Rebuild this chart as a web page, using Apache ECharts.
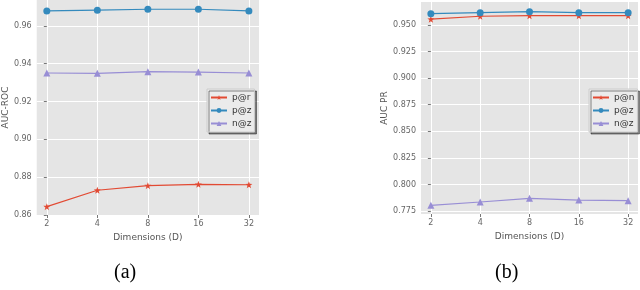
<!DOCTYPE html>
<html>
<head>
<meta charset="utf-8">
<script src="https://cdn.jsdelivr.net/npm/echarts@6/dist/echarts.min.js"></script>
<style>
html,body{margin:0;padding:0;background:#fff;}
#c{width:640px;height:290px;}
</style>
</head>
<body>
<div id="c"></div>
<script>
// ---- data ----
const dims = ['2', '4', '8', '16', '32'];
// (a) AUC-ROC
const rocNames = ['p@r', 'p@z', 'n@z'];
const rocPR = [0.8644, 0.8731, 0.8755, 0.8762, 0.8760];
const rocPZ = [0.9679, 0.9683, 0.9688, 0.9688, 0.9679];
const rocNZ = [0.9351, 0.9349, 0.9358, 0.9356, 0.9351];
const rocTicks = [0.86, 0.88, 0.90, 0.92, 0.94, 0.96];
// (b) AUC PR
const prNames = ['p@n', 'p@z', 'n@z'];
const prPN = [0.9554, 0.9582, 0.9587, 0.9587, 0.9587];
const prPZ = [0.9606, 0.9616, 0.9625, 0.9616, 0.9616];
const prNZ = [0.7804, 0.7835, 0.7869, 0.7853, 0.7847];
const prTicks = [0.775, 0.800, 0.825, 0.850, 0.875, 0.900, 0.925, 0.950];

const RED = '#E24A33', BLUE = '#348ABD', PURPLE = '#988ED5';
const FONT = 'DejaVu Sans';
const idx = dims.map((d, i) => i);
const pts = arr => arr.map((v, i) => [i, v]);

function xAxis(gi) {
  return {
    type: 'value', gridIndex: gi, min: -0.2, max: 4.2,
    name: 'Dimensions (D)', nameLocation: 'middle', nameGap: 16,
    nameTextStyle: {color: '#555', fontSize: 9, fontFamily: FONT},
    axisLine: {show: false},
    axisTick: {show: true, length: 3, lineStyle: {color: '#777'}, customValues: idx},
    axisLabel: {customValues: idx, formatter: v => dims[Math.round(v)], color: '#666', fontSize: 8, fontFamily: FONT, margin: 5},
    splitLine: {show: true, lineStyle: {color: '#fff', width: 1}}
  };
}
function yAxis(gi, min, max, ticks, name, gap, dec) {
  return {
    type: 'value', gridIndex: gi, min: min, max: max,
    name: name, nameLocation: 'middle', nameGap: gap,
    nameTextStyle: {color: '#555', fontSize: 9, fontFamily: FONT},
    axisLine: {show: false},
    axisTick: {show: true, length: 3, lineStyle: {color: '#777'}, customValues: ticks},
    axisLabel: {customValues: ticks, formatter: v => v.toFixed(dec), color: '#666', fontSize: 8, fontFamily: FONT, margin: 5},
    splitLine: {show: true, lineStyle: {color: '#fff', width: 1}}
  };
}
function line(name, data, color, symbol, size, gi) {
  return {
    type: 'line', name: name, data: pts(data), xAxisIndex: gi, yAxisIndex: gi,
    symbol: symbol, symbolSize: size, showSymbol: true,
    lineStyle: {color: color, width: 1.2}, itemStyle: {color: color},
    emphasis: {disabled: true}, animation: false, z: 3
  };
}
function legend(names, left, top) {
  return {
    data: names, left: left, top: top, orient: 'vertical',
    itemWidth: 16, itemHeight: 6, itemGap: 4,
    padding: [4, 3, 4, 3],
    backgroundColor: '#EBEBEB', borderColor: '#ccc', borderWidth: 1, borderRadius: 0,
    shadowColor: 'rgba(0,0,0,0.45)', shadowOffsetX: 2, shadowOffsetY: 2, shadowBlur: 0,
    textStyle: {color: '#333', fontSize: 9, fontFamily: FONT},
    selectedMode: false
  };
}

const STAR = 'path://M0,-10L2.35,-3.24L9.51,-3.09L3.8,1.24L5.88,8.09L0,4L-5.88,8.09L-3.8,1.24L-9.51,-3.09L-2.35,-3.24Z';
const chart = echarts.init(document.getElementById('c'), null, {renderer: 'canvas'});
chart.setOption({
  animation: false,
  grid: [
    {left: 36, top: 0, width: 223, height: 215, show: true, backgroundColor: '#E5E5E5', borderWidth: 0},
    {left: 421, top: 2, width: 217, height: 212, show: true, backgroundColor: '#E5E5E5', borderWidth: 0}
  ],
  xAxis: [xAxis(0), xAxis(1)],
  yAxis: [
    yAxis(0, 0.86, 0.9737, rocTicks, 'AUC-ROC', 26, 2),
    yAxis(1, 0.7722, 0.9716, prTicks, 'AUC PR', 30, 3)
  ],
  legend: [legend(rocNames, 207, 89), legend(prNames, 589, 89)],
  series: [
    line('p@r', rocPR, RED, STAR, 7, 0),
    line('p@z', rocPZ, BLUE, 'circle', 7, 0),
    line('n@z', rocNZ, PURPLE, 'triangle', 7, 0),
    line('p@n', prPN, RED, STAR, 7, 1),
    line('p@z', prPZ, BLUE, 'circle', 7, 1),
    line('n@z', prNZ, PURPLE, 'triangle', 7, 1)
  ],
  graphic: [
    {type: 'text', left: 114, top: 263, style: {text: '(a)', font: '20px "Liberation Serif", "DejaVu Serif", serif', fill: '#000'}},
    {type: 'text', left: 495, top: 263, style: {text: '(b)', font: '20px "Liberation Serif", "DejaVu Serif", serif', fill: '#000'}}
  ]
});
</script>
</body>
</html>
